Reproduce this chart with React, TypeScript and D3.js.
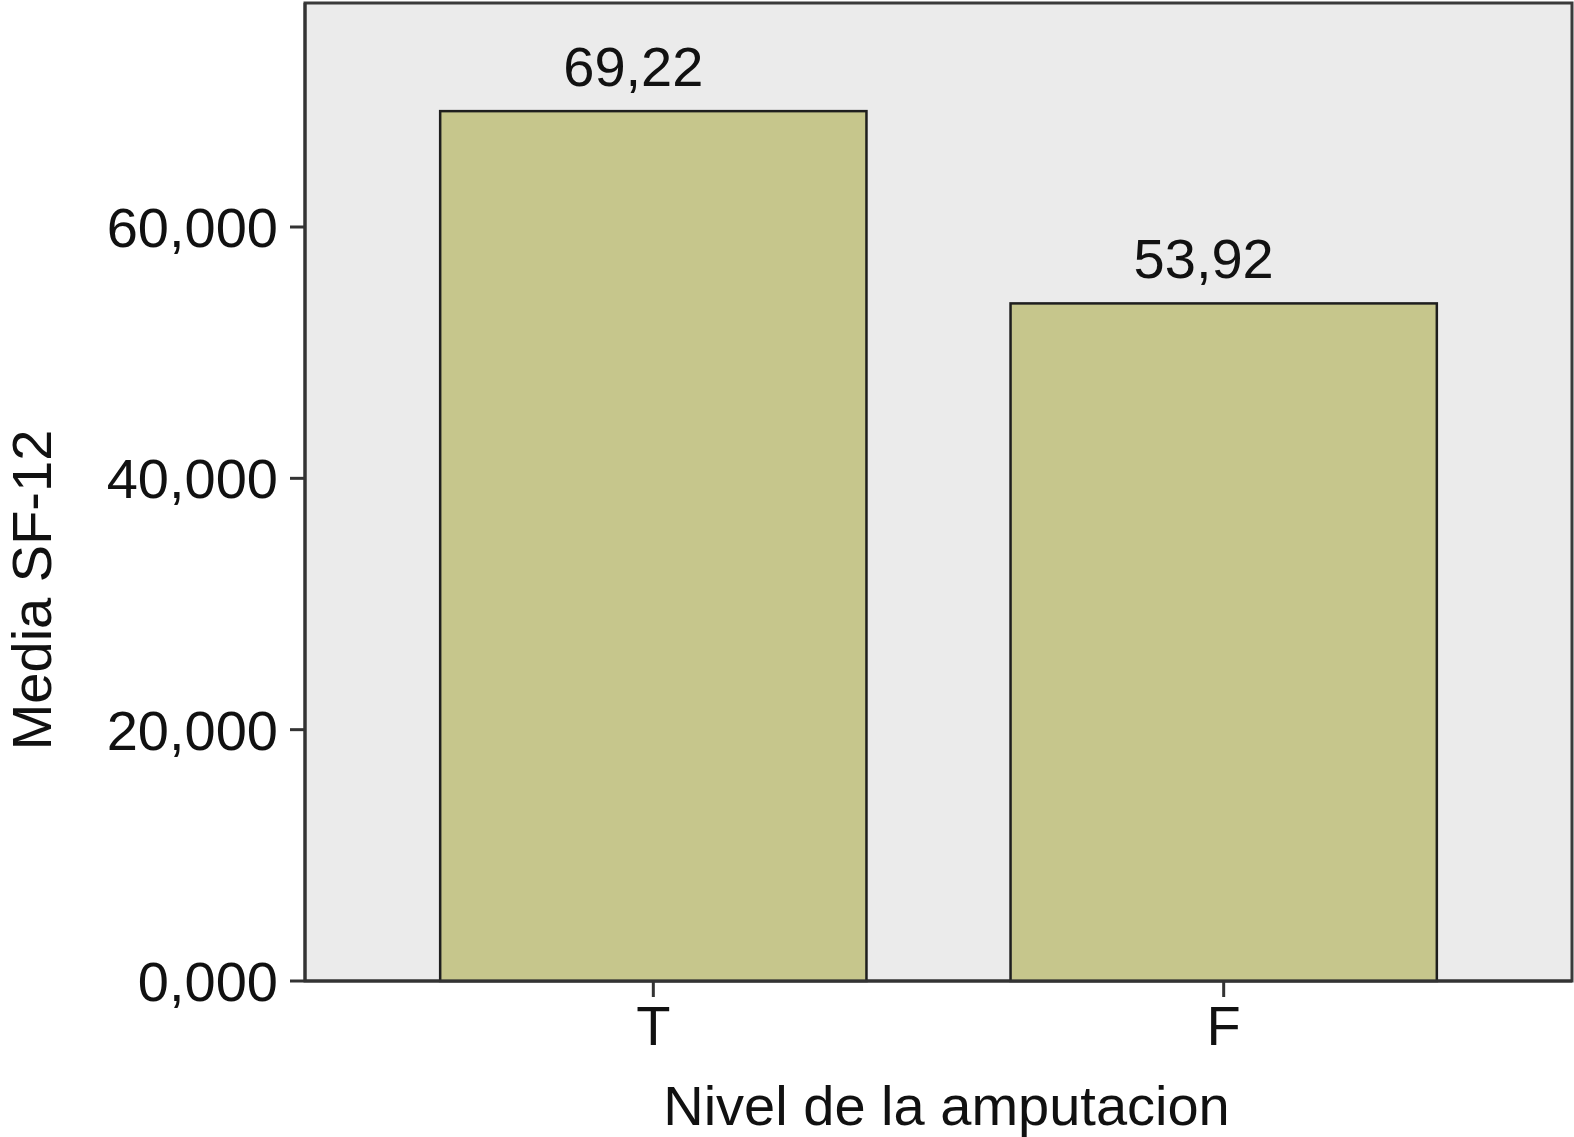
import React from "react";
import * as d3 from "d3";

const categories = ["T", "F"];
const values = [69.22, 53.92];
const valueLabels = ["69,22", "53,92"];
const yTicks = [0, 20, 40, 60];
const yTickLabels = ["0,000", "20,000", "40,000", "60,000"];
const xTitle = "Nivel de la amputacion";
const yTitle = "Media SF-12";

const W = 1574;
const H = 1137;
const plotLeft = 305;
const plotRight = 1572;
const plotTop = 3;
const plotBottom = 981;
const FONT = "'Liberation Sans', Arial, Helvetica, sans-serif";

export default function App() {
  const y = d3.scaleLinear().domain([0, 60]).range([plotBottom, 227]);
  const x = d3
    .scaleBand<string>()
    .domain(categories)
    .range([plotLeft, plotRight])
    .paddingInner(0.2526)
    .paddingOuter(0.237);

  return (
    <svg
      width={W}
      height={H}
      style={{ position: "absolute", left: 0, top: 0, background: "#fff" }}
      fontFamily={FONT}
    >
      <rect
        x={plotLeft}
        y={plotTop}
        width={plotRight - plotLeft}
        height={plotBottom - plotTop}
        fill="#EBEBEB"
        stroke="#3a3a3a"
        strokeWidth={3}
      />
      {categories.map((c, i) => (
        <g key={c}>
          <rect
            x={x(c)}
            y={y(values[i])}
            width={x.bandwidth()}
            height={plotBottom - y(values[i])}
            fill="#C6C68C"
            stroke="#1e1e1e"
            strokeWidth={2.5}
          />
          <text
            x={(x(c) as number) + x.bandwidth() / 2 - 20}
            y={y(values[i]) - 25}
            textAnchor="middle"
            fontSize={56}
            fill="#111"
          >
            {valueLabels[i]}
          </text>
          <line
            x1={(x(c) as number) + x.bandwidth() / 2}
            x2={(x(c) as number) + x.bandwidth() / 2}
            y1={plotBottom}
            y2={plotBottom + 16}
            stroke="#333"
            strokeWidth={3}
          />
          <text
            x={(x(c) as number) + x.bandwidth() / 2}
            y={1045}
            textAnchor="middle"
            fontSize={56}
            fill="#111"
          >
            {c}
          </text>
        </g>
      ))}
      <line x1={plotLeft} x2={plotRight} y1={plotBottom} y2={plotBottom} stroke="#333" strokeWidth={3} />
      <line x1={plotLeft} x2={plotLeft} y1={plotTop} y2={plotBottom} stroke="#333" strokeWidth={3} />
      {yTicks.map((t, i) => (
        <g key={t}>
          <line x1={290} x2={plotLeft} y1={y(t)} y2={y(t)} stroke="#333" strokeWidth={3} />
          <text
            x={278}
            y={y(t)}
            dy="0.36em"
            textAnchor="end"
            fontSize={56}
            fill="#111"
          >
            {yTickLabels[i]}
          </text>
        </g>
      ))}
      <text
        x={(plotLeft + plotRight) / 2 + 8}
        y={1125}
        textAnchor="middle"
        fontSize={56}
        fill="#111"
      >
        {xTitle}
      </text>
      <text
        transform={`translate(51, 590) rotate(-90)`}
        textAnchor="middle"
        fontSize={56}
        fill="#111"
      >
        {yTitle}
      </text>
    </svg>
  );
}
